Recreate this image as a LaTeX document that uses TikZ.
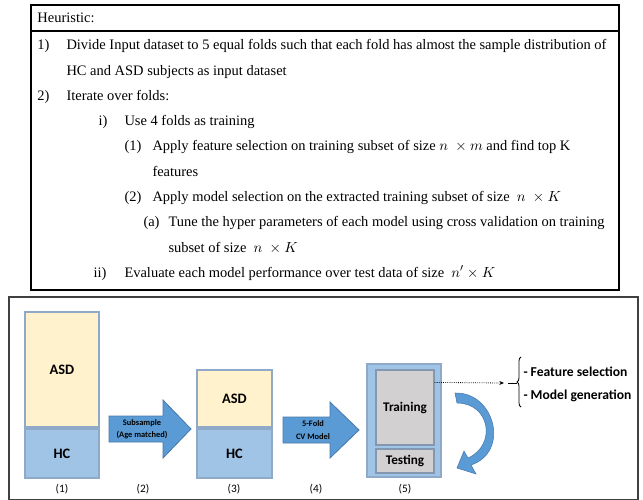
\documentclass[tikz,border=0pt]{standalone}
\usepackage{fontspec}
\setmainfont{Liberation Serif}
\newfontfamily\calibri{Carlito}
\usetikzlibrary{decorations.pathreplacing,arrows.meta}

\definecolor{asdfill}{RGB}{255,242,204}
\definecolor{hcfill}{RGB}{160,196,230}
\definecolor{boxline}{RGB}{143,170,200}
\definecolor{arrowfill}{RGB}{91,155,213}
\definecolor{arrowline}{RGB}{70,120,170}
\definecolor{trainfill}{RGB}{210,208,208}
\definecolor{trainline}{RGB}{132,151,176}

\tikzset{every picture/.style={line width=0.75pt}}
\tikzset{
  toptext/.style={anchor=base west, inner sep=0pt, font=\fontsize{10.85pt}{13pt}\selectfont},
  bar/.style={draw=boxline, line width=0.9pt, inner sep=0pt, font=\calibri\bfseries\fontsize{10.8pt}{12pt}\selectfont},
  asdbar/.style={bar, fill=asdfill},
  hcbar/.style={bar, fill=hcfill},
  stepnum/.style={inner sep=0pt, font=\calibri\fontsize{8.5pt}{10pt}\selectfont},
  arrowtext/.style={inner sep=0pt, align=center, font=\calibri\bfseries\fontsize{6.3pt}{9.3pt}\selectfont},
  bigarrow/.style={fill=arrowfill, draw=arrowline, line width=0.6pt},
  sidetext/.style={anchor=west, inner sep=0pt, font=\calibri\bfseries\fontsize{10.2pt}{12pt}\selectfont}
}

\begin{document}
\begin{tikzpicture}[x=0.75pt,y=0.75pt,yscale=-1,xscale=1]
\useasboundingbox (0,0) rectangle (643,500);

%Shape: Rectangle (heuristic table)
\draw [line width=0.8pt] (31,5) rectangle (619,290) ;
%Straight Lines
\draw [line width=0.8pt] (31,31) -- (619,31) ;

% Text Node
\node [toptext] (heur) at (37,22) {Heuristic:};
% Text Node
\node [toptext] (n1) at (37,49) {1)};
\node [toptext] (t1) at (66,49) {Divide Input dataset to 5 equal folds such that each fold has almost the sample distribution of};
\node [toptext] (t1b) at (66,75) {HC and ASD subjects as input dataset};
% Text Node
\node [toptext] (n2) at (37,100) {2)};
\node [toptext] (t2) at (66,100) {Iterate over folds:};
% Text Node
\node [toptext] (ni) at (98,125) {i)};
\node [toptext] (ti) at (124,125) {Use 4 folds as training};
% Text Node
\node [toptext] (n11) at (124,150) {(1)};
\node [toptext] (t11) at (152,150) {Apply feature selection on training subset of size $n\;\times m$ and find top K};
\node [toptext] (t11b) at (152,176) {features};
% Text Node
\node [toptext] (n12) at (124,201) {(2)};
\node [toptext] (t12) at (152,201) {Apply model selection on the extracted training subset of size \ $n\;\times K$};
% Text Node
\node [toptext] (na) at (143,226) {(a)};
\node [toptext] (ta) at (168,226) {Tune the hyper parameters of each model using cross validation on training};
\node [toptext] (tab) at (168,252) {subset of size \ $n\;\times K$};
% Text Node
\node [toptext] (nii) at (93,277) {ii)};
\node [toptext] (tii) at (124,277) {Evaluate each model performance over test data of size \ $n'\times K$};

%Shape: Rectangle (figure frame)
\draw [draw=black!75, line width=0.9pt] (9,297) rectangle (638,500) ;

%Shape: Rectangle (1)
\node [asdbar, minimum width=55.5pt, minimum height=86.25pt] (asdA) at (62,369.5) {ASD};
\node [hcbar, minimum width=55.5pt, minimum height=36.75pt] (hcA) at (62,453.5) {HC};

%Shape: Right Arrow (2)
\draw [bigarrow] (109,416) -- (163,416) -- (163,400) -- (191,429) -- (163,458) -- (163,442) -- (109,442) -- cycle ;
\node [arrowtext] (subtxt) at (142,429) {Subsample\\(Age matched)};

%Shape: Rectangle (3)
\node [asdbar, minimum width=56.25pt, minimum height=42.75pt] (asdB) at (234.5,398.5) {ASD};
\node [hcbar, minimum width=56.25pt, minimum height=36.75pt] (hcB) at (234.5,453.5) {HC};

%Shape: Right Arrow (4)
\draw [bigarrow] (283,417) -- (330,417) -- (330,402) -- (359,430) -- (330,458) -- (330,443) -- (283,443) -- cycle ;
\node [arrowtext] (cvtxt) at (313,430) {5-Fold\\CV Model};

%Shape: Rectangle (5)
\node [draw=boxline, fill=hcfill, line width=0.9pt, minimum width=55.5pt, minimum height=84.75pt] (fold) at (404,420.5) {};
\node [bar, draw=trainline, fill=trainfill, minimum width=43.5pt, minimum height=56.25pt, font=\calibri\bfseries\fontsize{9.9pt}{12pt}\selectfont] (train) at (405,407.5) {Training};
\node [bar, draw=trainline, fill=trainfill, minimum width=43.5pt, minimum height=18pt, font=\calibri\bfseries\fontsize{9.9pt}{12pt}\selectfont] (test) at (405,461) {Testing};

%Curve Left Arrow
\draw [bigarrow, line width=0.4pt] (455,393) .. controls (495,392) and (510,452) .. (471,465) -- (476,474) -- (457,468) -- (464,451) -- (468,458) .. controls (497,445) and (490,403) .. (457,403) -- cycle ;

%Straight Lines (dotted)
\coordinate (tip) at (504,383);
\coordinate (dsh) at (508,383);
\coordinate (brc) at (517,383);
\draw [densely dotted, line width=0.6pt, -{Stealth[length=3.5pt,width=3pt]}] ([yshift=9.75pt]train.north east) -- (tip) ;
\draw [line width=0.6pt] (dsh) -- (brc) ;
%Shape: Brace
\draw [line width=0.6pt, decorate, decoration={brace, amplitude=3pt}] (521,407) -- (521,357) ;

% Text Node
\node [sidetext] (feat) at (523,372) {- Feature selection};
\node [sidetext] (model) at (523,396) {- Model generation};

% Text Node
\node [stepnum] (s1) at (62,489) {(1)};
\node [stepnum] (s2) at (143,489) {(2)};
\node [stepnum] (s3) at (234,489) {(3)};
\node [stepnum] (s4) at (316,489) {(4)};
\node [stepnum] (s5) at (405,489) {(5)};

\end{tikzpicture}
\end{document}
